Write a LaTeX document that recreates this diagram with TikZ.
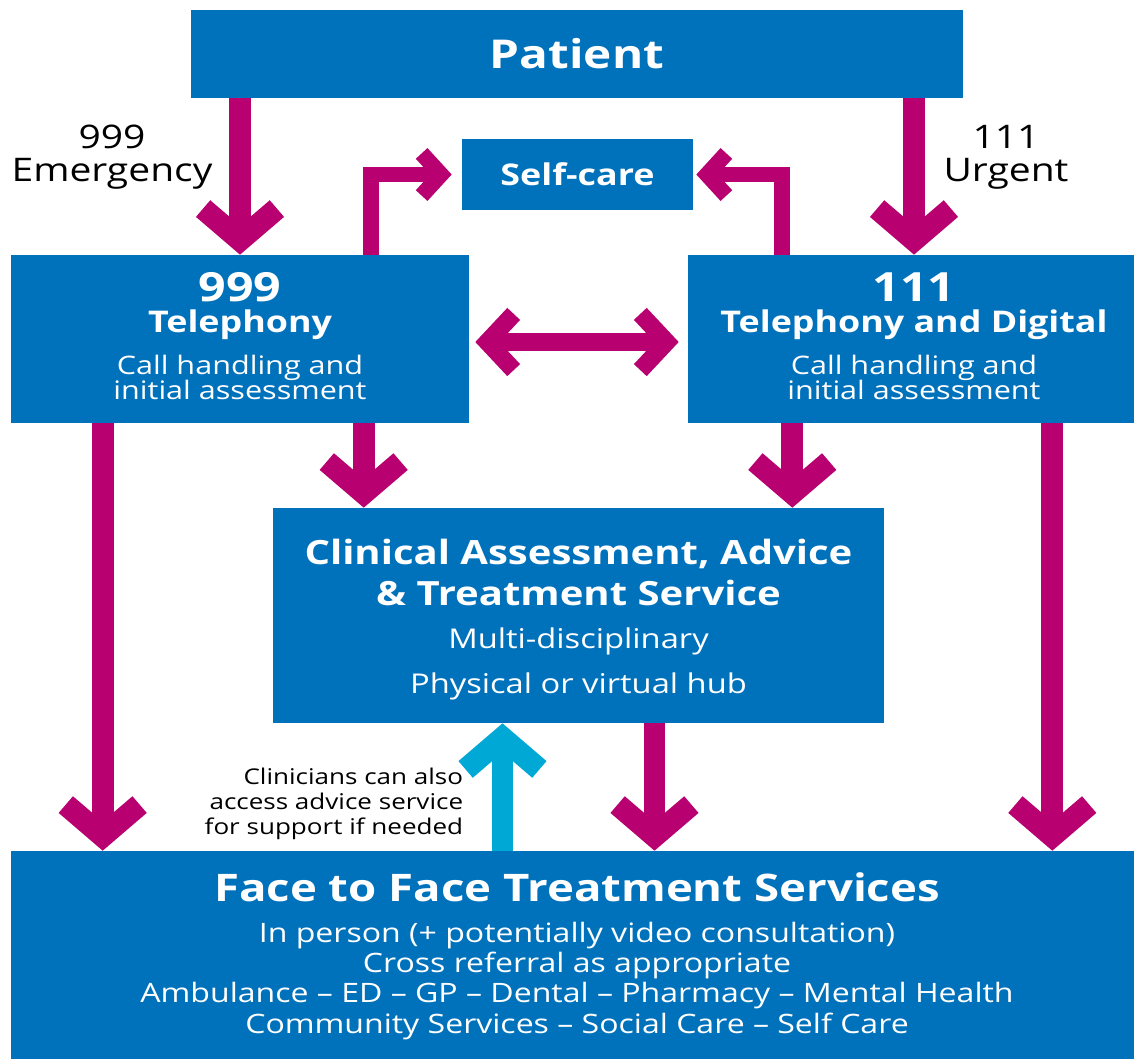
\documentclass[tikz,border=0pt]{standalone}
\usepackage{fontspec}
\setmainfont{Open Sans}[FakeStretch=1.2]
\usetikzlibrary{positioning,calc,arrows.meta}
\definecolor{nhsblue}{RGB}{0,114,188}
\definecolor{nhspink}{RGB}{184,0,112}
\definecolor{nhscyan}{RGB}{0,168,214}
\newcommand{\fs}[2]{\fontsize{#1}{#2}\selectfont}
\AtBeginDocument{\lineskiplimit=-10pt}
\tikzset{
  box/.style={fill=nhsblue, text=white, inner sep=0pt, align=center},
  txt/.style={text=white, inner sep=0pt, align=center},
  lbl/.style={inner sep=0pt, align=center, font=\fs{18.5}{18.7}},
  flow/.style={draw=nhspink, line width=12.5pt, ->},
  elbow/.style={draw=nhspink, line width=9pt, -{Straight Barb[length=11pt,width=24pt]}},
  both/.style={draw=nhspink, line width=10pt, {Straight Barb[length=15pt,width=32pt]}-{Straight Barb[length=15pt,width=32pt]}},
}

\begin{document}
\begin{tikzpicture}[x=0.02cm, y=-0.02cm, >={Straight Barb[length=18pt,width=42pt]}]
\path[use as bounding box, fill=white] (0,0) rectangle (1134,1059);

% boxes
\node[box, minimum width=15.44cm, minimum height=1.76cm, font=\fs{22.6}{24}\bfseries] (patient) at (577,54) {Patient};
\node[box, minimum width=4.62cm, minimum height=1.42cm, font=\fs{17}{19}\bfseries] (selfcare) at (577.5,174.5) {Self-care};
\node[box, minimum width=9.16cm, minimum height=3.36cm] (tel999) at (240,339) {};
\node[box, minimum width=9.04cm, minimum height=3.36cm] (tel111) at (914,339) {};
\node[box, minimum width=12.22cm, minimum height=4.3cm] (cas) at (578.5,615.5) {};
\node[box, minimum width=22.8cm, minimum height=4.96cm] (face) at (581,975) {};

% box texts
\node[txt, font=\fs{22.9}{24}\bfseries] (num999) at ($(tel999.north)+(0,32)$) {999};
\node[txt, font=\fs{17}{19}\bfseries] (head999) at ($(tel999.north)+(0,70)$) {Telephony};
\node[txt, font=\fs{14.5}{14.2}] (sub999) at ($(tel999.north)+(0,122.5)$) {Call handling and\\initial assessment};
\node[txt, font=\fs{22.9}{24}\bfseries] (num111) at ($(tel111.north)+(0,32)$) {111};
\node[txt, font=\fs{17}{19}\bfseries] (head111) at ($(tel111.north)+(0,70)$) {Telephony and Digital};
\node[txt, font=\fs{14.5}{14.2}] (sub111) at ($(tel111.north)+(0,122.5)$) {Call handling and\\initial assessment};
\node[txt, font=\fs{19}{23.2}\bfseries] (headcas) at ($(cas.north)+(0,64.5)$) {Clinical Assessment, Advice\\\& Treatment Service};
\node[txt, font=\fs{15.5}{25.5}] (subcas) at ($(cas.north)+(0,156.5)$) {Multi-disciplinary\\Physical or virtual hub};
\node[txt, font=\fs{21.6}{24}\bfseries] (headface) at ($(face.north)+(-4,37)$) {Face to Face Treatment Services};
\node[txt, font=\fs{15.2}{17.3}] (subface) at ($(face.north)+(-4,130)$) {In person (+ potentially video consultation)\\Cross referral as appropriate\\Ambulance – ED – GP – Dental – Pharmacy – Mental Health\\Community Services – Social Care – Self Care};

% patient to telephony
\draw[flow] (patient.south -| tel999.north) -- (tel999.north);
\draw[flow] (patient.south -| tel111.north) -- (tel111.north);
\node[lbl] (lab999) at (112,157) {999\\Emergency};
\node[lbl] (lab111) at (1006,157) {111\\Urgent};

% self-care
\draw[elbow, shorten >=0.2cm] ([xshift=-1.96cm]tel999.north east) |- (selfcare.west);
\draw[elbow, shorten >=0.06cm] ([xshift=1.88cm]tel111.north west) |- (selfcare.east);

% between the two
\draw[both, shorten <=0.12cm, shorten >=0.18cm] ([yshift=-0.06cm]tel999.east) -- ([yshift=-0.06cm]tel111.west);

% to the hub
\coordinate (in999) at ($(cas.north west)+(91,0)$);
\coordinate (in111) at ($(cas.north east)+(-92,0)$);
\draw[flow] (in999 |- tel999.south) -- (in999);
\draw[flow] (in111 |- tel111.south) -- (in111);

% to face to face
\coordinate (out999) at ($(tel999.south west)+(92,0)$);
\coordinate (out111) at ($(tel111.south east)+(-88,0)$);
\coordinate (outcas) at ($(cas.south)+(76,0)$);
\coordinate (incas) at ($(cas.south)+(-76,0)$);
\draw[flow] (out999) -- (out999 |- face.north);
\draw[flow] (out111) -- (out111 |- face.north);
\draw[flow] (outcas) -- (outcas |- face.north);
\draw[flow, draw=nhscyan] (incas |- face.north) -- (incas);
\node[inner sep=0pt, align=right, anchor=east, font=\fs{12.35}{14.2}] (advice) at ($(incas |- face.north)+(-39,-47)$) {Clinicians can also\\access advice service\\for support if needed};

\end{tikzpicture}
\end{document}
